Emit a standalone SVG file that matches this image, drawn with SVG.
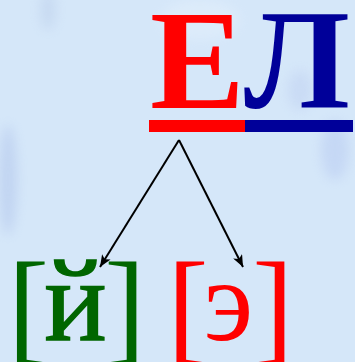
<svg xmlns="http://www.w3.org/2000/svg" width="355" height="362" viewBox="0 0 355 362">
<defs>
<filter id="blur" x="-50%" y="-50%" width="200%" height="200%"><feGaussianBlur stdDeviation="6"/></filter>
<marker id="ah" viewBox="0 0 12 10" refX="12" refY="5" markerWidth="12" markerHeight="10" markerUnits="userSpaceOnUse" orient="auto"><path d="M0,0 L12,5 L0,10 L3,5 Z" fill="#000"/></marker>
</defs>
<style>
.big{font-family:"Liberation Serif","Times New Roman",serif;font-weight:bold;font-size:142px}
.snd{font-family:"Liberation Serif","Times New Roman",serif;font-size:116px;text-anchor:middle}
.br{font-family:"Liberation Serif","Times New Roman",serif;font-size:124px;text-anchor:middle}
.arrow{stroke:#000;stroke-width:2;fill:none;marker-end:url(#ah)}
</style>
<rect width="355" height="362" fill="#d5e7f9"/>
<g filter="url(#blur)" opacity="0.45">
<ellipse cx="8" cy="180" rx="9" ry="55" fill="#a9bde8"/>
<ellipse cx="48" cy="10" rx="8" ry="20" fill="#b8cbe8"/>
<ellipse cx="335" cy="150" rx="14" ry="30" fill="#b3c6f0"/>
<ellipse cx="200" cy="20" rx="40" ry="20" fill="#e6f1fc"/>
<ellipse cx="300" cy="90" rx="12" ry="20" fill="#bccdf0"/>
</g>
<g id="word">
<text class="big" x="150" y="108" fill="#ff0000">Е</text>
<text class="big" x="244" y="108" fill="#000099">Л</text>
<rect x="149" y="120" width="96" height="12" fill="#ff0000"/>
<rect x="245" y="120" width="108" height="12" fill="#000099"/>
</g>
<g id="connectors">
<line class="arrow" x1="179" y1="140" x2="100" y2="267"/>
<line class="arrow" x1="179" y1="140" x2="243" y2="267"/>
</g>
<g id="sound-j" fill="#006600">
<text class="br" x="28.5" y="348">[</text>
<text class="snd" x="75.5" y="340" stroke="#006600" stroke-width="1.5">й</text>
<text class="br" x="125" y="348">]</text>
</g>
<g id="sound-e" fill="#ff0000">
<text class="br" x="188" y="348">[</text>
<text class="snd" x="228.5" y="340">э</text>
<text class="br" x="273" y="348">]</text>
</g>
</svg>
